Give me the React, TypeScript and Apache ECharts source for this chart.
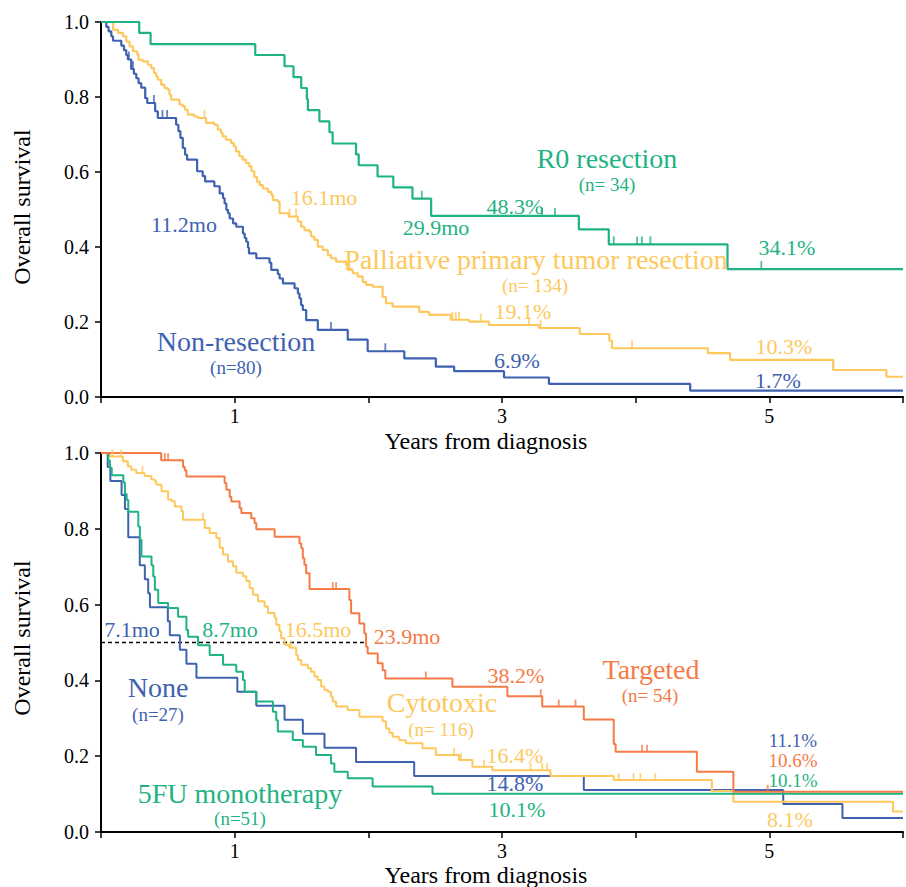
import React, { useEffect, useRef } from "react";
import * as echarts from "echarts";

type Pt = [number, number];

// ---------- Top panel: resection groups ----------
const r0Steps: Pt[] = [
  [0, 1], [0.286, 0.971], [0.371, 0.941], [1.154, 0.912], [1.373, 0.882], [1.44, 0.853],
  [1.498, 0.824], [1.54, 0.794], [1.548, 0.765], [1.634, 0.735], [1.709, 0.706], [1.733, 0.676],
  [1.908, 0.647], [1.928, 0.618], [2.069, 0.588], [2.187, 0.559], [2.33, 0.529], [2.47, 0.483],
  [3.575, 0.447], [3.799, 0.407], [4.687, 0.341], [6, 0.341],
];
const r0Censors = [2.4, 3.3, 3.396, 3.836, 4.01, 4.047, 4.11, 4.94];

const nonResSteps: Pt[] = [
  [0, 1], [0.04, 0.987], [0.057, 0.975], [0.077, 0.962], [0.09, 0.95], [0.152, 0.937],
  [0.172, 0.925], [0.189, 0.912], [0.201, 0.9], [0.226, 0.875], [0.246, 0.862], [0.264, 0.85],
  [0.281, 0.837], [0.301, 0.825], [0.331, 0.797], [0.346, 0.784], [0.405, 0.762], [0.425, 0.744],
  [0.562, 0.726], [0.579, 0.709], [0.594, 0.691], [0.612, 0.664], [0.629, 0.646], [0.644, 0.633],
  [0.719, 0.602], [0.761, 0.589], [0.779, 0.575], [0.848, 0.562], [0.888, 0.543], [0.913, 0.53],
  [0.925, 0.516], [0.938, 0.499], [0.95, 0.49], [0.963, 0.476], [0.988, 0.463], [1.012, 0.454],
  [1.062, 0.436], [1.075, 0.424], [1.087, 0.414], [1.1, 0.398], [1.107, 0.383], [1.162, 0.37],
  [1.261, 0.358], [1.274, 0.339], [1.323, 0.328], [1.336, 0.316], [1.361, 0.303], [1.448, 0.29],
  [1.473, 0.276], [1.485, 0.263], [1.497, 0.245], [1.51, 0.232], [1.535, 0.205], [1.622, 0.179],
  [1.846, 0.153], [1.995, 0.122], [2.269, 0.103], [2.505, 0.081], [2.642, 0.069], [3.015, 0.052],
  [3.351, 0.035], [4.408, 0.017], [6, 0.017],
];
const nonResCensors = [0.209, 0.239, 0.396, 0.46, 0.495, 1.721, 2.127];

const palliativeSteps: Pt[] = [
  [0, 1], [0.09, 0.979], [0.127, 0.971], [0.164, 0.962], [0.189, 0.948], [0.214, 0.935],
  [0.239, 0.922], [0.271, 0.913], [0.281, 0.899], [0.313, 0.895], [0.351, 0.886], [0.376, 0.877],
  [0.396, 0.864], [0.413, 0.855], [0.425, 0.846], [0.45, 0.833], [0.475, 0.824], [0.5, 0.819],
  [0.512, 0.806], [0.525, 0.793], [0.587, 0.78], [0.612, 0.775], [0.629, 0.766], [0.649, 0.753],
  [0.699, 0.748], [0.724, 0.744], [0.786, 0.731], [0.848, 0.726], [0.873, 0.713], [0.898, 0.704],
  [0.91, 0.695], [0.935, 0.686], [0.973, 0.677], [0.993, 0.668], [1.01, 0.655], [1.035, 0.642],
  [1.06, 0.633], [1.085, 0.624], [1.11, 0.615], [1.127, 0.602], [1.147, 0.587], [1.167, 0.574],
  [1.187, 0.565], [1.211, 0.556], [1.249, 0.547], [1.274, 0.539], [1.286, 0.525], [1.323, 0.521],
  [1.336, 0.49], [1.405, 0.481], [1.472, 0.468], [1.497, 0.454], [1.522, 0.445], [1.56, 0.441],
  [1.572, 0.428], [1.597, 0.419], [1.622, 0.401], [1.659, 0.392], [1.697, 0.378], [1.721, 0.37],
  [1.759, 0.361], [1.833, 0.352], [1.846, 0.339], [1.883, 0.33], [1.921, 0.321], [1.958, 0.307],
  [1.983, 0.299], [2.032, 0.294], [2.107, 0.267], [2.132, 0.25], [2.182, 0.241], [2.381, 0.227],
  [2.455, 0.219], [2.617, 0.206], [2.754, 0.201], [2.903, 0.192], [3.276, 0.184], [3.582, 0.168],
  [3.803, 0.15], [3.823, 0.13], [4.54, 0.117], [4.706, 0.099], [5.478, 0.072], [5.876, 0.054],
  [6, 0.054],
];
const palliativeCensors = [0.774, 1.41, 1.46, 2.629, 2.654, 2.679, 2.841, 3.201, 3.289, 3.973];

// ---------- Bottom panel: systemic therapy groups ----------
const noneSteps: Pt[] = [
  [0, 1], [0.05, 0.963], [0.07, 0.926], [0.154, 0.889], [0.179, 0.852], [0.204, 0.778],
  [0.29, 0.704], [0.328, 0.667], [0.353, 0.63], [0.366, 0.593], [0.5, 0.556], [0.515, 0.519],
  [0.59, 0.481], [0.639, 0.444], [0.714, 0.407], [1.02, 0.37], [1.162, 0.333], [1.373, 0.296],
  [1.51, 0.259], [1.672, 0.222], [1.908, 0.185], [2.343, 0.148], [3.612, 0.111], [5.104, 0.074],
  [5.547, 0.037], [6, 0.037],
];
const noneCensors: number[] = [];

const fuSteps: Pt[] = [
  [0, 1], [0.055, 0.98], [0.067, 0.961], [0.08, 0.941], [0.167, 0.922], [0.179, 0.892],
  [0.192, 0.876], [0.204, 0.845], [0.279, 0.806], [0.291, 0.771], [0.303, 0.727], [0.378, 0.704],
  [0.391, 0.674], [0.403, 0.639], [0.428, 0.604], [0.502, 0.591], [0.577, 0.568], [0.639, 0.533],
  [0.652, 0.515], [0.726, 0.493], [0.813, 0.467], [0.913, 0.441], [1.012, 0.423], [1.062, 0.401],
  [1.075, 0.37], [1.162, 0.344], [1.286, 0.317], [1.311, 0.295], [1.323, 0.265], [1.435, 0.243],
  [1.51, 0.225], [1.609, 0.203], [1.721, 0.181], [1.746, 0.159], [1.846, 0.142], [2.032, 0.12],
  [2.48, 0.101], [6, 0.101],
];
const fuCensors: number[] = [];

const cytoSteps: Pt[] = [
  [0, 1], [0.065, 0.991], [0.164, 0.978], [0.201, 0.965], [0.226, 0.956], [0.264, 0.947],
  [0.326, 0.939], [0.376, 0.93], [0.403, 0.925], [0.415, 0.916], [0.453, 0.899], [0.502, 0.877],
  [0.527, 0.873], [0.552, 0.859], [0.602, 0.846], [0.614, 0.824], [0.776, 0.802], [0.813, 0.789],
  [0.863, 0.776], [0.888, 0.75], [0.913, 0.732], [0.95, 0.714], [0.988, 0.701], [1.012, 0.684],
  [1.062, 0.675], [1.087, 0.662], [1.112, 0.644], [1.137, 0.626], [1.174, 0.609], [1.224, 0.595],
  [1.249, 0.578], [1.299, 0.565], [1.311, 0.547], [1.335, 0.53], [1.348, 0.511], [1.373, 0.494],
  [1.41, 0.486], [1.46, 0.467], [1.473, 0.454], [1.498, 0.441], [1.547, 0.432], [1.572, 0.423],
  [1.597, 0.41], [1.622, 0.401], [1.647, 0.384], [1.672, 0.375], [1.697, 0.37], [1.721, 0.357],
  [1.734, 0.344], [1.759, 0.331], [1.846, 0.322], [1.933, 0.304], [2.107, 0.292], [2.132, 0.273],
  [2.157, 0.262], [2.182, 0.251], [2.231, 0.242], [2.281, 0.234], [2.405, 0.221], [2.505, 0.203],
  [2.679, 0.19], [2.779, 0.172], [2.928, 0.163], [3.363, 0.148], [3.836, 0.137], [4.57, 0.108],
  [4.731, 0.08], [5.925, 0.054], [6, 0.054],
];
const cytoCensors = [0.085, 0.152, 0.31, 0.764, 1.423, 2.642, 2.692, 2.866, 3.214, 3.301, 3.338, 3.873, 3.985, 4.035, 4.147];

const targetedSteps: Pt[] = [
  [0, 1], [0.45, 0.981], [0.614, 0.963], [0.627, 0.954], [0.639, 0.938], [0.925, 0.921],
  [0.938, 0.903], [0.963, 0.884], [0.975, 0.872], [1.037, 0.855], [1.05, 0.842], [1.124, 0.828],
  [1.149, 0.815], [1.162, 0.799], [1.299, 0.779], [1.485, 0.761], [1.498, 0.749], [1.51, 0.722],
  [1.522, 0.705], [1.535, 0.683], [1.56, 0.641], [1.858, 0.612], [1.871, 0.577], [1.933, 0.55],
  [1.97, 0.524], [1.983, 0.489], [1.995, 0.471], [2.07, 0.445], [2.107, 0.427], [2.127, 0.405],
  [2.629, 0.383], [3.04, 0.358], [3.301, 0.331], [3.612, 0.297], [3.836, 0.232], [3.85, 0.212],
  [4.458, 0.159], [4.731, 0.106], [6, 0.106],
];
const targetedCensors = [0.478, 0.502, 1.734, 1.759, 2.43, 3.29, 3.425, 3.55, 4.048, 4.085, 4.988];

// median reference line (bottom panel)
const medianLine: Pt[] = [[0, 0.5], [1.99, 0.5]];

const xLabelled = [1, 3, 5];

const GREEN = "#1fb383";
const YELLOW = "#fdc85c";
const BLUE = "#3e62b0";
const ORANGE = "#f47b46";
const FONT = "Liberation Serif, Times New Roman, serif";

function levelAt(steps: Pt[], t: number): number {
  let v = steps[0][1];
  for (const [x, y] of steps) {
    if (x <= t) v = y;
    else break;
  }
  return v;
}

function km(steps: Pt[], censors: number[], color: string, g: number, width: number, tickH: number) {
  return [
    {
      type: "line",
      xAxisIndex: g,
      yAxisIndex: g,
      step: "end",
      data: steps,
      showSymbol: false,
      symbol: "none",
      lineStyle: { color, width },
      z: 3,
    },
    {
      type: "scatter",
      xAxisIndex: g,
      yAxisIndex: g,
      data: censors.map((t) => [t, levelAt(steps, t)]),
      symbol: "rect",
      symbolSize: [1.8, tickH],
      symbolOffset: [0, -tickH / 2],
      itemStyle: { color },
      z: 4,
    },
  ];
}

function txt(text: string, x: number, y: number, color: string, size: number, rotation = 0) {
  return {
    type: "text",
    x,
    y,
    rotation,
    z: 10,
    style: {
      text,
      fill: color,
      fontSize: size,
      fontFamily: FONT,
      textAlign: "center",
      textVerticalAlign: "middle",
    },
  };
}

function xAxis(g: number) {
  return {
    type: "value",
    gridIndex: g,
    min: 0,
    max: 6,
    interval: 1,
    axisLine: { show: true, lineStyle: { color: "#000", width: 2 } },
    axisTick: { show: true, length: 6, lineStyle: { color: "#000", width: 1.5 } },
    axisLabel: {
      color: "#000",
      fontSize: 20,
      fontFamily: FONT,
      margin: 9,
      formatter: (v: number) => (xLabelled.includes(v) ? String(v) : ""),
    },
    splitLine: { show: false },
  };
}

function yAxis(g: number) {
  return {
    type: "value",
    gridIndex: g,
    min: 0,
    max: 1,
    interval: 0.2,
    axisLine: { show: true, lineStyle: { color: "#000", width: 2 } },
    axisTick: { show: true, length: 6, lineStyle: { color: "#000", width: 1.5 } },
    axisLabel: {
      color: "#000",
      fontSize: 20,
      fontFamily: FONT,
      margin: 12,
      formatter: (v: number) => v.toFixed(1),
    },
    splitLine: { show: false },
  };
}

export default function App() {
  const ref = useRef<HTMLDivElement>(null);
  useEffect(() => {
    if (!ref.current) return;
    const chart = echarts.init(ref.current, undefined, { renderer: "svg" });
    const option = {
      animation: false,
      backgroundColor: "#fff",
      textStyle: { fontFamily: FONT },
      grid: [
        { left: 101, top: 22, width: 804, height: 375 },
        { left: 101, top: 453, width: 804, height: 379 },
      ],
      xAxis: [xAxis(0), xAxis(1)],
      yAxis: [yAxis(0), yAxis(1)],
      series: [
        ...km(nonResSteps, nonResCensors, BLUE, 0, 2.2, 8),
        ...km(palliativeSteps, palliativeCensors, YELLOW, 0, 2.2, 8),
        ...km(r0Steps, r0Censors, GREEN, 0, 2.2, 8),
        {
          type: "line",
          xAxisIndex: 1,
          yAxisIndex: 1,
          data: medianLine,
          showSymbol: false,
          symbol: "none",
          lineStyle: { color: "#000", width: 1.3, type: [4, 3] },
          z: 2,
        },
        ...km(noneSteps, noneCensors, BLUE, 1, 2, 7),
        ...km(cytoSteps, cytoCensors, YELLOW, 1, 2, 7),
        ...km(fuSteps, fuCensors, GREEN, 1, 2, 7),
        ...km(targetedSteps, targetedCensors, ORANGE, 1, 2, 7),
      ],
      graphic: [
        // axis titles
        txt("Years from diagnosis", 486, 441, "#000", 24),
        txt("Years from diagnosis", 486, 875, "#000", 24),
        txt("Overall survival", 22, 207, "#000", 24, Math.PI / 2),
        txt("Overall survival", 22, 638, "#000", 24, Math.PI / 2),
        // top panel annotations
        txt("R0 resection", 607, 158, GREEN, 28),
        txt("(n= 34)", 607, 184, GREEN, 19),
        txt("48.3%", 515, 206, GREEN, 22),
        txt("29.9mo", 436, 227, GREEN, 22),
        txt("34.1%", 787, 247, GREEN, 22),
        txt("Palliative primary tumor resection", 536, 259, YELLOW, 28),
        txt("(n= 134)", 535, 285, YELLOW, 19),
        txt("16.1mo", 324, 197, YELLOW, 22),
        txt("19.1%", 523, 311, YELLOW, 22),
        txt("10.3%", 784, 346, YELLOW, 22),
        txt("11.2mo", 184, 224, BLUE, 22),
        txt("Non-resection", 236, 341, BLUE, 28),
        txt("(n=80)", 236, 367, BLUE, 19),
        txt("6.9%", 517, 360, BLUE, 22),
        txt("1.7%", 778, 380, BLUE, 22),
        // bottom panel annotations
        txt("7.1mo", 132, 629, BLUE, 22),
        txt("8.7mo", 230, 629, GREEN, 22),
        txt("16.5mo", 318, 629, YELLOW, 22),
        txt("23.9mo", 407, 636, ORANGE, 22),
        txt("38.2%", 516, 675, ORANGE, 22),
        txt("Targeted", 651, 669, ORANGE, 28),
        txt("(n= 54)", 650, 695, ORANGE, 19),
        txt("Cytotoxic", 442, 702, YELLOW, 28),
        txt("(n= 116)", 441, 729, YELLOW, 19),
        txt("None", 158, 687, BLUE, 28),
        txt("(n=27)", 158, 714, BLUE, 19),
        txt("16.4%", 515, 755, YELLOW, 22),
        txt("14.8%", 515, 783, BLUE, 22),
        txt("10.1%", 517, 809, GREEN, 22),
        txt("5FU monotherapy", 240, 793, GREEN, 28),
        txt("(n=51)", 240, 818, GREEN, 19),
        txt("11.1%", 793, 740, BLUE, 19),
        txt("10.6%", 793, 760, ORANGE, 19),
        txt("10.1%", 793, 780, GREEN, 19),
        txt("8.1%", 790, 819, YELLOW, 22),
      ],
    };
    chart.setOption(option as any);
    return () => chart.dispose();
  }, []);
  return (
    <div
      ref={ref}
      style={{ position: "fixed", left: 0, top: 0, width: "906px", height: "887px", background: "#fff" }}
    />
  );
}
